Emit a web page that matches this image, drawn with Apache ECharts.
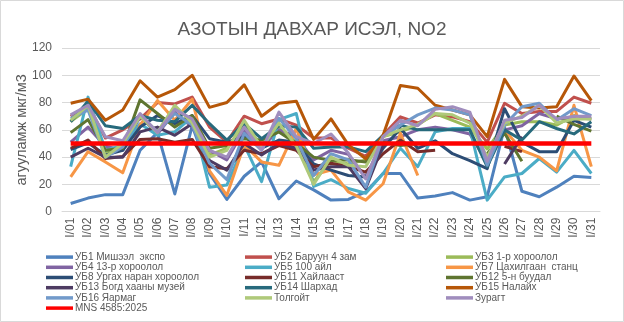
<!DOCTYPE html>
<html>
<head>
<meta charset="utf-8">
<script src="https://cdn.jsdelivr.net/npm/echarts@6/dist/echarts.min.js"></script>
<style>
  html, body { margin: 0; padding: 0; background: #fff; }
  #chart { width: 624px; height: 322px; }
</style>
</head>
<body>
<div id="chart"></div>
<script>
// Daily NO2 concentrations (мкг/м3) for January, per monitoring station
const days = ['I/01','I/02','I/03','I/04','I/05','I/06','I/07','I/08','I/09','I/10','I/11','I/12','I/13','I/14','I/15','I/16','I/17','I/18','I/19','I/20','I/21','I/22','I/23','I/24','I/25','I/26','I/27','I/28','I/29','I/30','I/31'];

const ub1  = [6,10,12.5,12.5,45,58,13,63,28,9,26,36.5,9.5,22.5,16,8.5,9,14.5,28,28,10,11.5,14,8.5,11,62,15,11,18,26,25];
const ub2  = [70,78,54,60,68,80,79,84,62,51,70,64.5,68,63.5,54,54,46.5,40.5,56,69.5,65,71,69.5,66,51,79.5,72,73.5,73.5,84,79.5];
const ub3  = [66,75.5,42.5,48.5,70.5,58.5,77,66,41.5,46.5,63.5,49,61,51,22,37.5,35,38,55,58.5,63.5,72,67,62,46,63.5,66,66,63.5,70.5,68];
const ub4  = [51,62,48,45,70,57,73,62,45,38,60,47,60,55,38,45,42,25,52,55,60,62,60,57,36,60,63,72,68,69,68];
const ub5  = [33,84,45,48.5,64.5,56,58.5,69.5,18,19.5,49,22,67.5,72,18.5,23.5,17,13.5,28,46.5,33,58.5,61,61,8.5,25.5,28,39,29,45,28];
const ub7  = [25.5,44,36.5,28.5,63.5,81.5,67,82.5,30,12,49,36.5,34,61,27,30.5,14.5,8.5,20.5,57.5,26.5,null,null,null,null,60,45,40,30,78,33];
const ub8  = [45.5,50.5,41.5,45,62,70.5,64.5,70.5,53.5,51,55,46.5,52.5,51,35,30.5,26.5,25.5,46.5,61,46.5,52,42.5,37.5,31.5,75.5,51,44,44,67,62];
const ub11 = [46.5,52.5,39,40.5,53,53.5,51,53,33,31.5,45,42.5,48.5,45,33,35.5,33,29,42.5,52.5,44,45,null,null,null,48,44,null,null,null,null];
const ub12 = [58,67.5,45,46.5,82,72,62,70.5,46.5,48.5,53.5,52.5,58.5,50,40,37.5,38,36.5,51,48.5,50,null,null,null,42.5,57.5,37,null,70,64,59];
const ub13 = [40,46.5,40,40,58.5,62,56,64.5,37.5,30.5,50,41.5,50,46.5,30.5,33,33,17,49,null,null,null,null,null,null,35,55,null,null,null,null];
const ub14 = [66,81,63,61,70.5,67,66,78,64.5,52.5,64.5,53.5,63,62,46.5,47.5,47.5,44,56,63.5,60,60,60,60,33,60,52.5,66,61,57,66];
const ub15 = [79.5,82.5,67,74.5,96,84,89.5,100,76.5,80,93,70,79.5,81,53,68,49,38.7,56,92.5,90.5,78,74.5,71,55,97,77,76,77,99.5,81.5];
const ub16 = [68.5,74.5,40,47.5,70.5,58.5,72,63.5,35.5,23.5,57.5,45,68.5,53.5,26.5,42.5,38,18,55,63.5,71,76,74.5,71,34,63.5,77,79.5,67,75.5,70.5];
const tolgoit = [67,78,40,50,70,58,78,65,40,45,67,47,65,48,20,40,34,33,55,60,64,72,71,65,40,65,70,78,65,68,68];
const zuragt  = [71,78,55,52,72,58,75,68,45,40,62,45,73,55,50,57,43,24,55,67,63,75,77,73,37,67,69,78,68,70,70];
// MNS 4585:2025 daily limit
const mns = [50,50,50,50,50,50,50,50,50,50,50,50,50,50,50,50,50,50,50,50,50,50,50,50,50,50,50,50,50,50,50];

const yTicks = { min: 0, max: 120, interval: 20 };

const stations = [
  { name: 'УБ1 Мишээл  экспо',        data: ub1,  color: '#4F81BD' },
  { name: 'УБ2 Баруун 4 зам',         data: ub2,  color: '#C0504D' },
  { name: 'УБ3 1-р хороолол',         data: ub3,  color: '#9BBB59' },
  { name: 'УБ4 13-р хороолол',        data: ub4,  color: '#8064A2' },
  { name: 'УБ5 100 айл',              data: ub5,  color: '#4BACC6' },
  { name: 'УБ7 Цахилгаан  станц',     data: ub7,  color: '#F79646' },
  { name: 'УБ8 Ургах наран хороолол', data: ub8,  color: '#2C4D75' },
  { name: 'УБ11 Хайлааст',            data: ub11, color: '#772C2A' },
  { name: 'УБ12 5-н буудал',          data: ub12, color: '#5F7530' },
  { name: 'УБ13 Богд хааны музей',    data: ub13, color: '#4D3B62' },
  { name: 'УБ14 Шархад',              data: ub14, color: '#276A7C' },
  { name: 'УБ15 Налайх',              data: ub15, color: '#B65708' },
  { name: 'УБ16 Яармаг',              data: ub16, color: '#729ACA' },
  { name: 'Толгойт',                  data: tolgoit, color: '#AFC97A' },
  { name: 'Зурагт',                   data: zuragt,  color: '#A08DBD' },
  { name: 'MNS 4585:2025',            data: mns,  color: '#FF0000', width: 4.5 }
];

const FONT = 'Liberation Sans, Arial, sans-serif';
const TXT = '#595959';

const series = stations.map(s => ({
  name: s.name,
  type: 'line',
  data: s.data,
  symbol: 'none',
  connectNulls: false,
  color: s.color,
  lineStyle: { width: s.width || 3, color: s.color, join: 'round' },
  emphasis: { disabled: true },
  animation: false
}));

const names = stations.map(s => s.name);
const legendCols = [
  { left: 46,  items: names.filter((_, i) => i % 3 === 0) },
  { left: 245, items: names.filter((_, i) => i % 3 === 1) },
  { left: 446, items: names.filter((_, i) => i % 3 === 2) }
];

const legend = legendCols.map(c => ({
  data: c.items,
  orient: 'vertical',
  left: c.left,
  top: 252,
  padding: 0,
  itemGap: 0,
  itemWidth: 27,
  itemHeight: 3.5,
  icon: 'rect',
  selectedMode: false,
  textStyle: { fontFamily: FONT, fontSize: 10, color: TXT, lineHeight: 10.2, padding: [0, 0, 0, -3] }
}));

const chart = echarts.init(document.getElementById('chart'), null, { renderer: 'canvas' });
chart.setOption({
  animation: false,
  backgroundColor: '#fff',
  title: {
    text: 'АЗОТЫН ДАВХАР ИСЭЛ, NO2',
    left: 'center',
    top: 15,
    textStyle: { fontFamily: FONT, fontSize: 19, fontWeight: 'normal', color: TXT }
  },
  graphic: [{
    type: 'rect',
    shape: { x: 0.5, y: 0.5, width: 623, height: 321 },
    style: { fill: 'none', stroke: '#D9D9D9', lineWidth: 1 },
    silent: true
  }],
  legend: legend,
  grid: { left: 62, right: 24, top: 48, bottom: 110.3, containLabel: false },
  xAxis: {
    type: 'category',
    data: days,
    boundaryGap: true,
    axisLine: { show: true, lineStyle: { color: '#D9D9D9', width: 1 } },
    axisTick: { show: false },
    axisLabel: { rotate: 90, margin: 6, fontFamily: FONT, fontSize: 12, color: TXT, interval: 0 }
  },
  yAxis: {
    type: 'value',
    min: yTicks.min,
    max: yTicks.max,
    interval: yTicks.interval,
    name: 'агууламж мкг/м3',
    nameLocation: 'middle',
    nameGap: 33,
    nameMoveOverlap: false,
    nameRotate: 90,
    nameTextStyle: { fontFamily: FONT, fontSize: 14.5, color: TXT },
    axisLine: { show: false },
    axisTick: { show: false },
    splitLine: { lineStyle: { color: '#D9D9D9', width: 1 } },
    axisLabel: { margin: 10, fontFamily: FONT, fontSize: 12, color: TXT }
  },
  series: series
});
</script>
</body>
</html>
